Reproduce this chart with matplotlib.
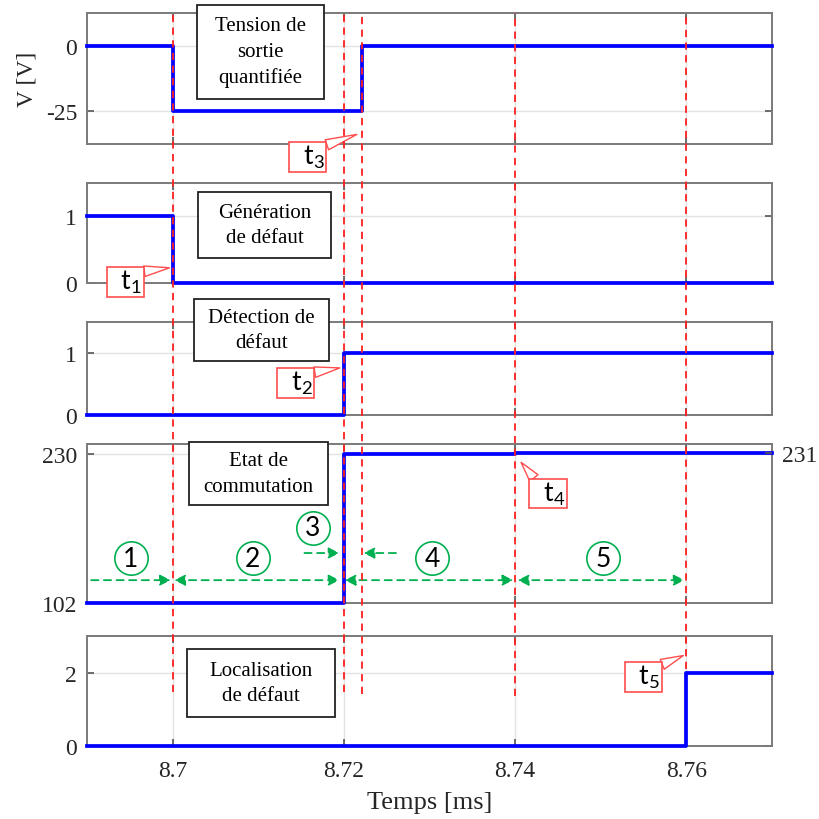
import matplotlib
matplotlib.use("Agg")
import matplotlib.pyplot as plt
from matplotlib.lines import Line2D
from matplotlib.patches import Rectangle
import matplotlib.transforms as mtransforms

plt.rcParams['axes.unicode_minus'] = False

# ---------------- data ----------------
xlim = (8.69, 8.77)
xticks = [8.7, 8.72, 8.74, 8.76]
xtick_labels = ["8.7", "8.72", "8.74", "8.76"]

# panel 1 : quantized output voltage
t_v = [8.69, 8.70, 8.7221, 8.77]
v_out = [0, -25, 0, 0]
# panel 2 : fault generation
t_gen = [8.69, 8.70, 8.77]
gen = [1, 0, 0]
# panel 3 : fault detection
t_det = [8.69, 8.72, 8.77]
det = [0, 1, 1]
# panel 4 : switching state
t_sw = [8.69, 8.72, 8.74, 8.77]
sw = [102, 230, 231, 231]
# panel 5 : fault localisation
t_loc = [8.69, 8.76, 8.77]
loc = [0, 2, 2]

event_times = [8.70, 8.72, 8.7221, 8.74, 8.76]
event_bottoms = [0.155, 0.155, 0.153, 0.150, 0.183]   # figure fraction

panel_titles = ["Tension de\nsortie\nquantifiée", "Génération\nde défaut",
                "Détection de\ndéfaut", "Etat de\ncommutation",
                "Localisation\nde défaut"]

# ---------------- style ----------------
BLUE = "#0000ff"
RED = "#ff2020"
GREEN = "#00b050"
SPINE = "#7a7a7a"
TXT = "#262626"
SERIF = "Liberation Serif"
SANS = "Lato"

fig = plt.figure(figsize=(8.2, 8.2), dpi=100)
L, W = 0.106, 0.8354
rects = [(0.823, 0.160), (0.654, 0.122), (0.493, 0.113), (0.263, 0.194), (0.089, 0.134)]
axes = [fig.add_axes([L, b, W, h]) for b, h in rects]

ylims = [(-37.5, 12.5), (0, 1.5), (0, 1.5), (102, 238.6), (0, 3)]
yticks = [[-25, 0], [0, 1], [0, 1], [102, 230], [0, 2]]
series = [(t_v, v_out), (t_gen, gen), (t_det, det), (t_sw, sw), (t_loc, loc)]

# title box positions (data) and sizes (inches)
title_pos = [(8.71029, -2.3), (8.71076, 0.866), (8.71041, 1.371),
             (8.71006, 213.6), (8.71029, 1.73)]
title_size = [(1.27, 0.94), (1.33, 0.66), (1.35, 0.62), (1.39, 0.63), (1.48, 0.68)]

for i, ax in enumerate(axes):
    t, y = series[i]
    ax.plot(t, y, drawstyle="steps-post", color=BLUE, lw=2.7, clip_on=False, zorder=5)
    ax.set_xlim(*xlim)
    ax.set_ylim(*ylims[i])
    ax.set_yticks(yticks[i])
    ax.set_yticklabels([str(v) for v in yticks[i]])
    ax.set_xticks(xticks)
    ax.grid(True, color="#e3e3e3", lw=1.0)
    ax.set_axisbelow(True)
    for s in ax.spines.values():
        s.set_color(SPINE)
        s.set_linewidth(1.4)
    ax.tick_params(direction="in", length=5, width=1.2, color="#555555",
                   labelsize=17, labelcolor=TXT, pad=7,
                   right=(i != 3), top=True)
    ax.tick_params(axis="x", pad=10)
    for lab in ax.get_yticklabels() + ax.get_xticklabels():
        lab.set_fontfamily(SERIF)
    if i < 4:
        ax.tick_params(labelbottom=False)
    cx, cy = title_pos[i]
    bw, bh = title_size[i]
    btrans = fig.dpi_scale_trans + mtransforms.ScaledTranslation(cx, cy, ax.transData)
    ax.add_artist(Rectangle((-bw / 2, -bh / 2), bw, bh, transform=btrans,
                            fc="white", ec="#222222", lw=1.3, zorder=10, clip_on=False))
    ax.text(cx, cy, panel_titles[i], ha="center", va="center", fontsize=15,
            family=SERIF, color="black", linespacing=1.45, zorder=11, clip_on=False)

axes[4].set_xticklabels(xtick_labels)
for lab in axes[4].get_xticklabels():
    lab.set_fontfamily(SERIF)
axes[4].set_xlabel("Temps [ms]", fontsize=19, family=SERIF, color=TXT, labelpad=7)
axes[0].set_ylabel("V [V]", fontsize=17, family=SERIF, color=TXT, labelpad=6)

# right axis on panel 4
ax4r = axes[3].twinx()
ax4r.set_ylim(*ylims[3])
ax4r.set_yticks([231])
ax4r.set_yticklabels(["231"])
for s in ax4r.spines.values():
    s.set_visible(False)
ax4r.tick_params(direction="in", length=5, width=1.2, color="#555555",
                 labelsize=17, labelcolor=TXT, pad=7)
for lab in ax4r.get_yticklabels():
    lab.set_fontfamily(SERIF)

# red dashed event lines across panels
trans = mtransforms.blended_transform_factory(axes[4].transData, fig.transFigure)
for tx, yb in zip(event_times, event_bottoms):
    fig.add_artist(Line2D([tx, tx], [yb, 0.983], transform=trans, color=RED,
                          lw=1.3, dashes=(4, 3), zorder=20))

# red callouts
def callout(ax, label, xy, xytext, relpos):
    ax.annotate(label, xy=xy, xytext=xytext, xycoords="data", textcoords="data",
                ha="center", va="center", fontsize=19, family=SANS, color="black",
                annotation_clip=False, zorder=30,
                bbox=dict(boxstyle="square,pad=0.05", fc="white", ec="#ff4d4d", lw=1.2),
                arrowprops=dict(arrowstyle="wedge,tail_width=0.4,shrink_factor=0.5",
                                fc="white", ec="#ff4d4d", lw=1.0, relpos=relpos,
                                shrinkA=0, shrinkB=0))

def tlab(n):
    return r"$\mathregular{\ \,t_%d\ \,}$" % n

callout(axes[0], tlab(3), (8.72152, -33.8), (8.7158, -42.3), (0.85, 0.85))
callout(axes[1], tlab(1), (8.69965, 0.224), (8.69450, 0.015), (0.85, 0.85))
callout(axes[2], tlab(2), (8.71953, 0.758), (8.71439, 0.516), (0.85, 0.85))
callout(axes[3], tlab(4), (8.74070, 223.1), (8.74386, 196.3), (0.2, 0.9))
callout(axes[4], tlab(5), (8.75965, 2.47), (8.75497, 1.89), (0.85, 0.85))

# green phase arrows and circled numbers in panel 4
ax4 = axes[3]
phase_y = 121.9
phase_spans = [(8.6905, 8.6998, "-|>"), (8.7002, 8.7195, "<|-|>"),
               (8.7201, 8.7398, "<|-|>"), (8.7403, 8.7598, "<|-|>")]
for x0, x1, st in phase_spans:
    ax4.annotate("", xy=(x1, phase_y), xytext=(x0, phase_y),
                 arrowprops=dict(arrowstyle=st, color=GREEN, lw=1.3, ls=(0, (4, 3)),
                                 mutation_scale=16, shrinkA=0, shrinkB=0), zorder=8)
# phase 3 (inward arrows)
ax4.annotate("", xy=(8.7195, 145.2), xytext=(8.7154, 145.2),
             arrowprops=dict(arrowstyle="-|>", color=GREEN, lw=1.3, ls=(0, (4, 3)),
                             mutation_scale=16, shrinkA=0, shrinkB=0))
ax4.annotate("", xy=(8.7223, 145.2), xytext=(8.7261, 145.2),
             arrowprops=dict(arrowstyle="-|>", color=GREEN, lw=1.3, ls=(0, (4, 3)),
                             mutation_scale=16, shrinkA=0, shrinkB=0))

phase_labels = ["1", "2", "3", "4", "5"]
phase_x = [8.69509, 8.70936, 8.71637, 8.73029, 8.75029]
phase_ly = [140.9, 140.9, 166.8, 140.9, 140.9]
for lab, px, py in zip(phase_labels, phase_x, phase_ly):
    ax4.plot([px], [py], marker="o", ms=24, mfc="white", mec=GREEN, mew=1.2, zorder=9)
    ax4.text(px, py, lab, ha="center", va="center", fontsize=19, family=SANS,
             color="black", zorder=10)

fig.savefig("out.png", dpi=100)
